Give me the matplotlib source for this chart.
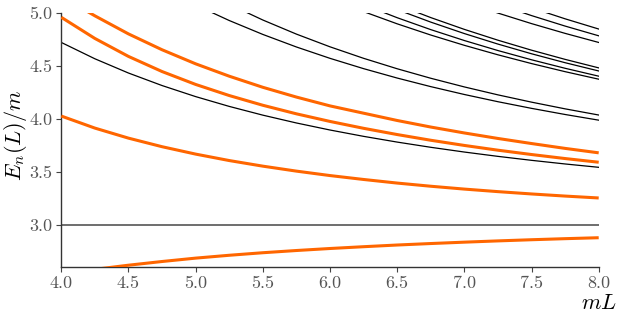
import matplotlib
matplotlib.use("Agg")
import matplotlib.pyplot as plt

# ---------------- data ----------------
mL = [4.0, 4.25, 4.5, 4.75, 5.0, 5.25, 5.5, 5.75, 6.0, 6.25, 6.5, 6.75,
      7.0, 7.25, 7.5, 7.75, 8.0]

threshold = 3.0

# thin black levels (each one covers the last len(values) entries of mL)
free_A = [4.7242, 4.5697, 4.4349, 4.3165, 4.2119, 4.1192, 4.0365, 3.9625, 3.8959,
          3.8359, 3.7817, 3.7324, 3.6875, 3.6466, 3.6091, 3.5747, 3.5431]
free_B = [5.0784, 4.9317, 4.8001, 4.6814, 4.5739, 4.4764, 4.3875, 4.3063, 4.2319,
          4.1636, 4.1008, 4.0427, 3.9891]
free_C = [5.0851, 4.9365, 4.8031, 4.6829, 4.5741, 4.4754, 4.3855, 4.3035, 4.2284,
          4.1595, 4.0961, 4.0377]
free_D = [5.1424, 5.0159, 4.9004, 4.7944, 4.6971, 4.6073, 4.5245, 4.4478, 4.3767]
free_E = [5.2168, 5.0815, 4.9583, 4.8456, 4.7424, 4.6476, 4.5603, 4.4798, 4.4052]
free_F = [5.1641, 5.0348, 4.9166, 4.8083, 4.7088, 4.6172, 4.5326, 4.4545]
free_G = [5.0813, 4.9595, 4.8479, 4.7455, 4.6511, 4.5641, 4.4837]
free_H = [5.1099, 5.0021, 4.9025, 4.8101, 4.7242]
free_I = [5.0858, 4.9784, 4.8791, 4.7871]
free_J = [5.0520, 4.9478, 4.8512]
free_levels = [free_A, free_B, free_C, free_D, free_E, free_F, free_G,
               free_H, free_I, free_J]

# thick orange levels
level_1 = [2.535, 2.578, 2.617, 2.652, 2.684, 2.711, 2.735, 2.756, 2.775, 2.792,
           2.808, 2.822, 2.835, 2.847, 2.858, 2.868, 2.877]
level_2 = [4.028, 3.914, 3.819, 3.738, 3.668, 3.607, 3.554, 3.507, 3.465, 3.428,
           3.394, 3.364, 3.337, 3.313, 3.291, 3.271, 3.253]
level_3 = [4.962, 4.762, 4.592, 4.449, 4.327, 4.222, 4.130, 4.049, 3.977, 3.912,
           3.853, 3.799, 3.750, 3.705, 3.664, 3.626, 3.591]
level_4 = [5.160, 4.976, 4.805, 4.655, 4.522, 4.405, 4.300, 4.2075, 4.124, 4.055,
           3.986, 3.924, 3.868, 3.816, 3.768, 3.722, 3.680]
levels = [level_1, level_2, level_3, level_4]

x_ticks = [4.0, 4.5, 5.0, 5.5, 6.0, 6.5, 7.0, 7.5, 8.0]
y_ticks = [3.0, 3.5, 4.0, 4.5, 5.0]

# ---------------- style ----------------
plt.rcParams["font.family"] = "serif"
plt.rcParams["font.serif"] = ["cmr10", "DejaVu Serif"]
plt.rcParams["mathtext.fontset"] = "cm"
plt.rcParams["axes.formatter.use_mathtext"] = True

ORANGE = "#ff6600"

fig = plt.figure(figsize=(6.23, 3.22), dpi=100)
ax = fig.add_axes([0.0984, 0.1708, 0.8626, 0.7879])

ax.axhline(threshold, color="#555555", lw=1.2, zorder=2)

for vals in free_levels:
    xs = mL[len(mL) - len(vals):]
    ax.plot(xs, vals, color="black", lw=0.9, zorder=2)

for vals in levels:
    ax.plot(mL, vals, color=ORANGE, lw=2.2, zorder=3, solid_capstyle="butt",
            solid_joinstyle="round")

ax.set_xlim(4.0, 8.0)
ax.set_ylim(2.6, 5.0)
ax.set_xticks(x_ticks)
ax.set_yticks(y_ticks)
ax.set_xticklabels([f"{v:.1f}" for v in x_ticks])
ax.set_yticklabels([f"{v:.1f}" for v in y_ticks])

for s in ["top", "right"]:
    ax.spines[s].set_visible(False)
for s in ["left", "bottom"]:
    ax.spines[s].set_color("#333333")
    ax.spines[s].set_linewidth(1.0)

ax.tick_params(axis="both", direction="out", length=3.5, width=0.8,
               color="#444444", labelcolor="#555555", labelsize=13, pad=3)

ax.set_xlabel("$mL$", fontsize=16)
ax.xaxis.set_label_coords(1.0, -0.105)
ax.set_ylabel("$E_n(L)/m$", fontsize=16)
ax.yaxis.set_label_coords(-0.06, 0.52)

fig.savefig("out.png", dpi=100)
